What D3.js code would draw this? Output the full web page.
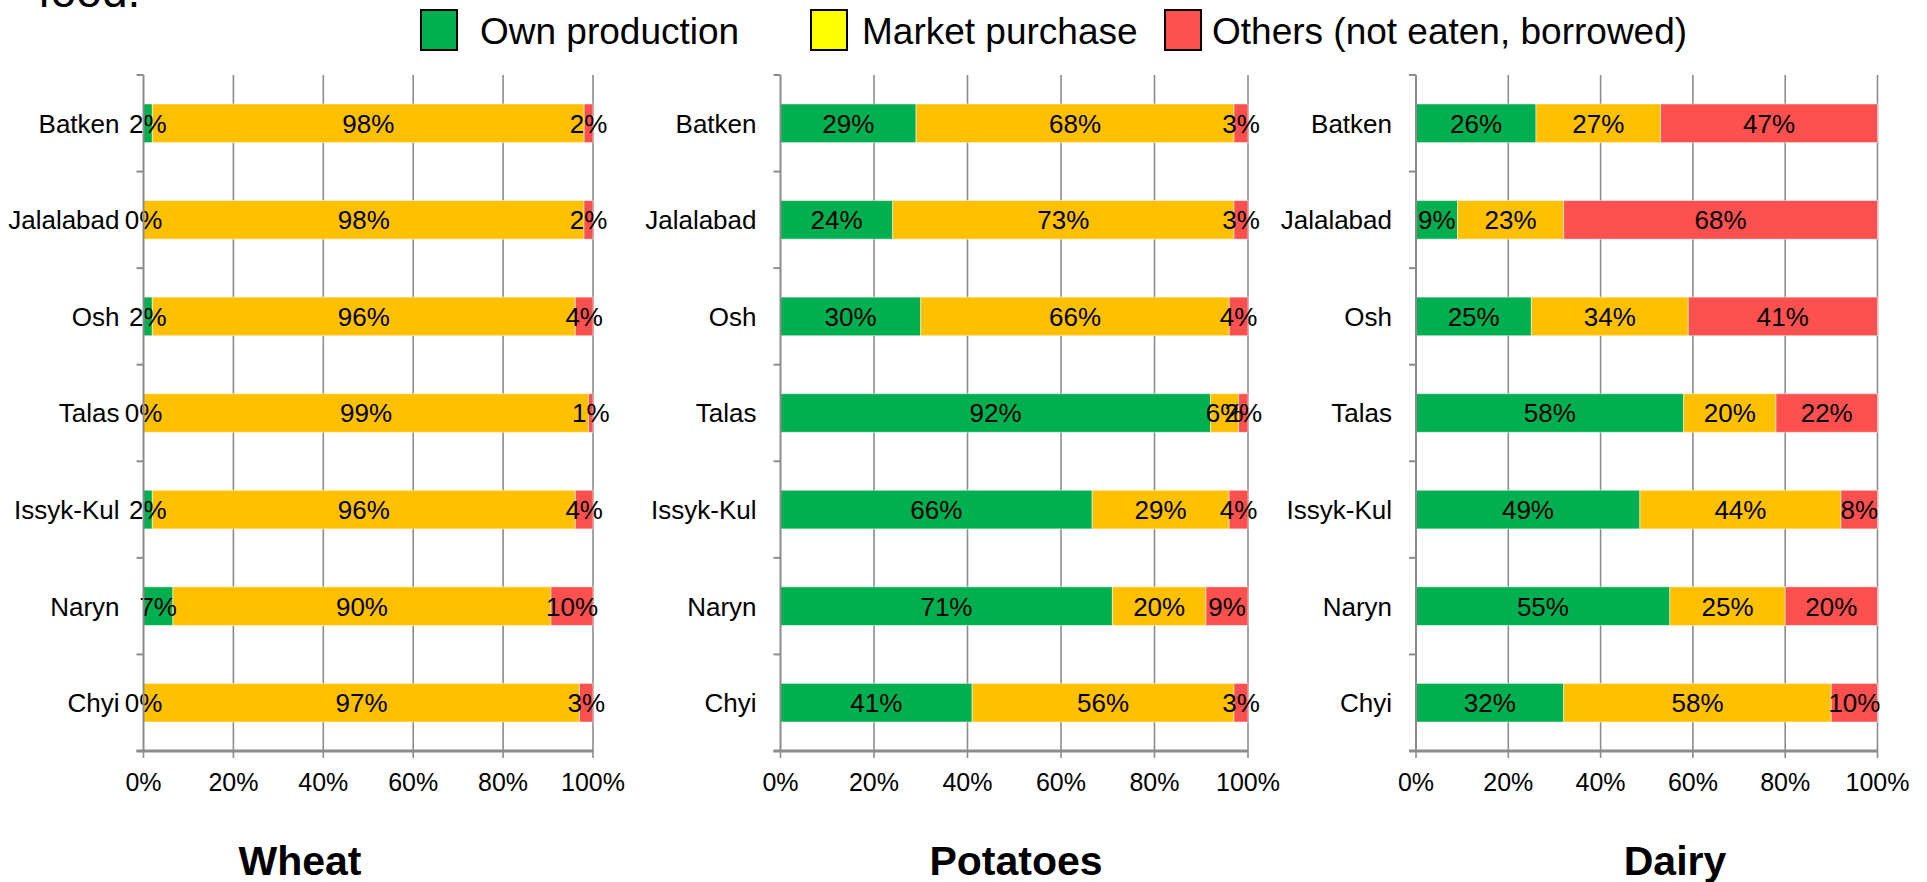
<!DOCTYPE html>
<html>
<head>
<meta charset="utf-8">
<script src="https://cdn.jsdelivr.net/npm/d3@7"></script>
<style>
  html, body { margin: 0; padding: 0; background: #ffffff; }
  svg { display: block; font-family: "Liberation Sans", Arial, sans-serif; }
</style>
</head>
<body>
<svg id="chart" width="1927" height="882"></svg>
<script>
// ---- data ----
const categories = ["Batken", "Jalalabad", "Osh", "Talas", "Issyk-Kul", "Naryn", "Chyi"];
const seriesKeys = ["own", "market", "others"];
const seriesNames = ["Own production", "Market purchase", "Others (not eaten, borrowed)"];
const panelTitles = ["Wheat", "Potatoes", "Dairy"];

const wheatOwn     = [2, 0, 2, 0, 2, 7, 0];
const wheatMarket  = [98, 98, 96, 99, 96, 90, 97];
const wheatOthers  = [2, 2, 4, 1, 4, 10, 3];

const potatoesOwn    = [29, 24, 30, 92, 66, 71, 41];
const potatoesMarket = [68, 73, 66, 6, 29, 20, 56];
const potatoesOthers = [3, 3, 4, 2, 4, 9, 3];

const dairyOwn    = [26, 9, 25, 58, 49, 55, 32];
const dairyMarket = [27, 23, 34, 20, 44, 25, 58];
const dairyOthers = [47, 68, 41, 22, 8, 20, 10];

const xTickValues = [0, 0.2, 0.4, 0.6, 0.8, 1];
const xTickLabels = ["0%", "20%", "40%", "60%", "80%", "100%"];

// ---- styles / layout ----
const barColors = { own: "#00B050", market: "#FFC000", others: "#FF5050" };
const legendColors = ["#00B050", "#FFFF00", "#FF5050"];
const gridColor = "#8c8c8c";

const panelData = [
  [wheatOwn, wheatMarket, wheatOthers],
  [potatoesOwn, potatoesMarket, potatoesOthers],
  [dairyOwn, dairyMarket, dairyOthers]
];
const panelLayout = [
  { x0: 143.5, x1: 593, titleX: 300 },
  { x0: 780.5, x1: 1248, titleX: 1016 },
  { x0: 1416, x1: 1877.5, titleX: 1675 }
];
const plotTop = 75, plotBottom = 751;

const svg = d3.select("#chart");

// partial paragraph text at top-left
svg.append("text")
  .attr("x", 38).attr("y", 7)
  .attr("font-size", 46)
  .attr("fill", "#000")
  .text("food.");

// legend
const legendPos = [
  { bx: 421, tx: 480 },
  { bx: 811, tx: 862 },
  { bx: 1165, tx: 1212 }
];
seriesNames.forEach((name, i) => {
  svg.append("rect")
    .attr("x", legendPos[i].bx).attr("y", 10)
    .attr("width", 36).attr("height", 40)
    .attr("fill", legendColors[i])
    .attr("stroke", "#000").attr("stroke-width", 2);
  svg.append("text")
    .attr("x", legendPos[i].tx).attr("y", 44)
    .attr("font-size", 37)
    .attr("fill", "#000")
    .text(name);
});

const y = d3.scaleBand()
  .domain(categories)
  .range([plotTop, plotBottom])
  .paddingInner(0.6)
  .paddingOuter(0.3);
const step = y.step();

panelData.forEach((arrs, p) => {
  const L = panelLayout[p];
  const rows = categories.map((c, i) => ({
    cat: c, own: arrs[0][i], market: arrs[1][i], others: arrs[2][i]
  }));
  const stack = d3.stack().keys(seriesKeys).offset(d3.stackOffsetExpand);
  const layers = stack(rows);

  const x = d3.scaleLinear().domain([0, 1]).range([L.x0, L.x1]);
  const g = svg.append("g");

  // vertical gridlines
  g.selectAll("line.grid")
    .data(xTickValues.slice(1))
    .join("line")
    .attr("x1", d => x(d)).attr("x2", d => x(d))
    .attr("y1", plotTop).attr("y2", plotBottom)
    .attr("stroke", gridColor).attr("stroke-width", 1.6);

  // bars
  layers.forEach(layer => {
    g.selectAll(null)
      .data(layer)
      .join("rect")
      .attr("x", d => x(d[0]))
      .attr("width", d => Math.max(0, x(d[1]) - x(d[0])))
      .attr("y", d => y(d.data.cat))
      .attr("height", y.bandwidth())
      .attr("fill", barColors[layer.key])
      .attr("stroke", "rgba(255,255,255,0.5)")
      .attr("stroke-width", 1);
  });

  // data labels
  layers.forEach(layer => {
    g.selectAll(null)
      .data(layer)
      .join("text")
      .attr("x", d => (x(d[0]) + x(d[1])) / 2)
      .attr("y", d => y(d.data.cat) + y.bandwidth() / 2)
      .attr("dy", "0.36em")
      .attr("text-anchor", "middle")
      .attr("font-size", 26)
      .attr("fill", "#000")
      .text(d => d.data[layer.key] + "%");
  });

  // y axis line
  g.append("line")
    .attr("x1", L.x0).attr("x2", L.x0)
    .attr("y1", plotTop).attr("y2", plotBottom)
    .attr("stroke", gridColor).attr("stroke-width", 2);
  // category separator ticks
  g.selectAll("line.ytick")
    .data(d3.range(categories.length + 1))
    .join("line")
    .attr("x1", L.x0 - 7).attr("x2", L.x0)
    .attr("y1", i => plotTop + i * step).attr("y2", i => plotTop + i * step)
    .attr("stroke", gridColor).attr("stroke-width", 2);

  // bottom axis
  g.append("line")
    .attr("x1", L.x0 - 7).attr("x2", L.x1)
    .attr("y1", plotBottom).attr("y2", plotBottom)
    .attr("stroke", gridColor).attr("stroke-width", 3);
  g.selectAll("line.xtick")
    .data(xTickValues)
    .join("line")
    .attr("x1", d => x(d)).attr("x2", d => x(d))
    .attr("y1", plotBottom).attr("y2", plotBottom + 7)
    .attr("stroke", gridColor).attr("stroke-width", 1.6);
  g.selectAll("text.xlab")
    .data(xTickValues)
    .join("text")
    .attr("x", d => x(d))
    .attr("y", 791)
    .attr("text-anchor", "middle")
    .attr("font-size", 25)
    .attr("fill", "#000")
    .text((d, i) => xTickLabels[i]);

  // category labels
  g.selectAll("text.cat")
    .data(categories)
    .join("text")
    .attr("x", L.x0 - 24)
    .attr("y", d => y(d) + y.bandwidth() / 2)
    .attr("dy", "0.36em")
    .attr("text-anchor", "end")
    .attr("font-size", 26)
    .attr("fill", "#000")
    .text(d => d);

  // panel title
  svg.append("text")
    .attr("x", L.titleX).attr("y", 875)
    .attr("text-anchor", "middle")
    .attr("font-size", 41)
    .attr("font-weight", "bold")
    .attr("fill", "#000")
    .text(panelTitles[p]);
});
</script>
</body>
</html>
